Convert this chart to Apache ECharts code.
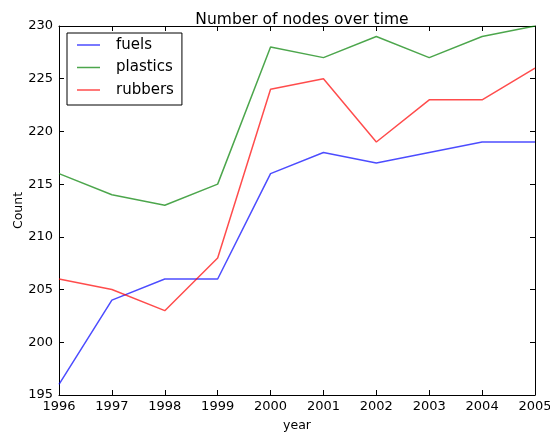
<!DOCTYPE html>
<html>
<head>
<meta charset="utf-8">
<script src="https://cdn.jsdelivr.net/npm/echarts@6/dist/echarts.min.js"></script>
<style>
  html, body { margin: 0; padding: 0; background: #fff; }
  #chart { width: 550px; height: 434px; }
</style>
</head>
<body>
<div id="chart"></div>
<script>
// Node counts per material network, 1996–2005
const years = ['1996', '1997', '1998', '1999', '2000', '2001', '2002', '2003', '2004', '2005'];
const fuels = [196, 204, 206, 206, 216, 218, 217, 218, 219, 219];
const plastics = [216, 214, 213, 215, 228, 227, 229, 227, 229, 230];
const rubbers = [206, 205, 203, 208, 224, 225, 219, 223, 223, 226];

const FONT = 'DejaVu Sans';
const chart = echarts.init(document.getElementById('chart'), null, { renderer: 'canvas' });

function lineSeries(name, data, color) {
  return {
    name: name,
    type: 'line',
    data: data,
    symbol: 'none',
    color: color,
    lineStyle: { color: color, width: 1.5 },
    animation: false
  };
}

const frameAxis = {
  axisLine: { show: true, onZero: false, lineStyle: { color: '#000', width: 1 } },
  axisTick: { show: true, inside: true, length: 5, lineStyle: { color: '#000' } },
  splitLine: { show: false }
};

chart.setOption({
  animation: false,
  backgroundColor: '#fff',
  title: {
    text: 'Number of nodes over time',
    left: 297,
    textAlign: 'center',
    top: 7,
    textStyle: { fontFamily: FONT, fontSize: 15.5, fontWeight: 'normal', color: '#000' }
  },
  grid: { left: 59, top: 26, right: 15, bottom: 39, containLabel: false, outerBoundsMode: 'none' },
  legend: {
    orient: 'vertical',
    left: 67,
    top: 33,
    padding: [4.5, 8, 7.5, 10],
    itemGap: 7.5,
    itemWidth: 23,
    itemHeight: 1.5,
    icon: 'rect',
    borderColor: '#000',
    borderWidth: 1,
    borderRadius: 0,
    backgroundColor: '#fff',
    textStyle: { fontFamily: FONT, fontSize: 15, lineHeight: 15, color: '#000', padding: [0, 0, 0, 11] },
    data: ['fuels', 'plastics', 'rubbers']
  },
  xAxis: [
    Object.assign({
      type: 'category',
      data: years,
      boundaryGap: false,
      position: 'bottom',
      name: 'year',
      nameLocation: 'middle',
      nameGap: 24,
      nameTextStyle: { fontFamily: FONT, fontSize: 12.5, color: '#000' },
      axisLabel: { fontFamily: FONT, fontSize: 13, color: '#000', margin: 5 }
    }, frameAxis),
    Object.assign({
      type: 'category',
      data: years,
      boundaryGap: false,
      position: 'top',
      axisLabel: { show: false }
    }, frameAxis)
  ],
  yAxis: [
    Object.assign({
      type: 'value',
      min: 195,
      max: 230,
      interval: 5,
      position: 'left',
      name: 'Count',
      nameLocation: 'middle',
      nameGap: 34,
      nameMoveOverlap: false,
      nameTextStyle: { fontFamily: FONT, fontSize: 12.5, color: '#000' },
      axisLabel: { fontFamily: FONT, fontSize: 13, color: '#000', margin: 6 }
    }, frameAxis),
    Object.assign({
      type: 'value',
      min: 195,
      max: 230,
      interval: 5,
      position: 'right',
      axisLabel: { show: false }
    }, frameAxis)
  ],
  series: [
    lineSeries('fuels', fuels, 'rgba(0,0,255,0.7)'),
    lineSeries('plastics', plastics, 'rgba(0,128,0,0.7)'),
    lineSeries('rubbers', rubbers, 'rgba(255,0,0,0.7)')
  ]
});
</script>
</body>
</html>
